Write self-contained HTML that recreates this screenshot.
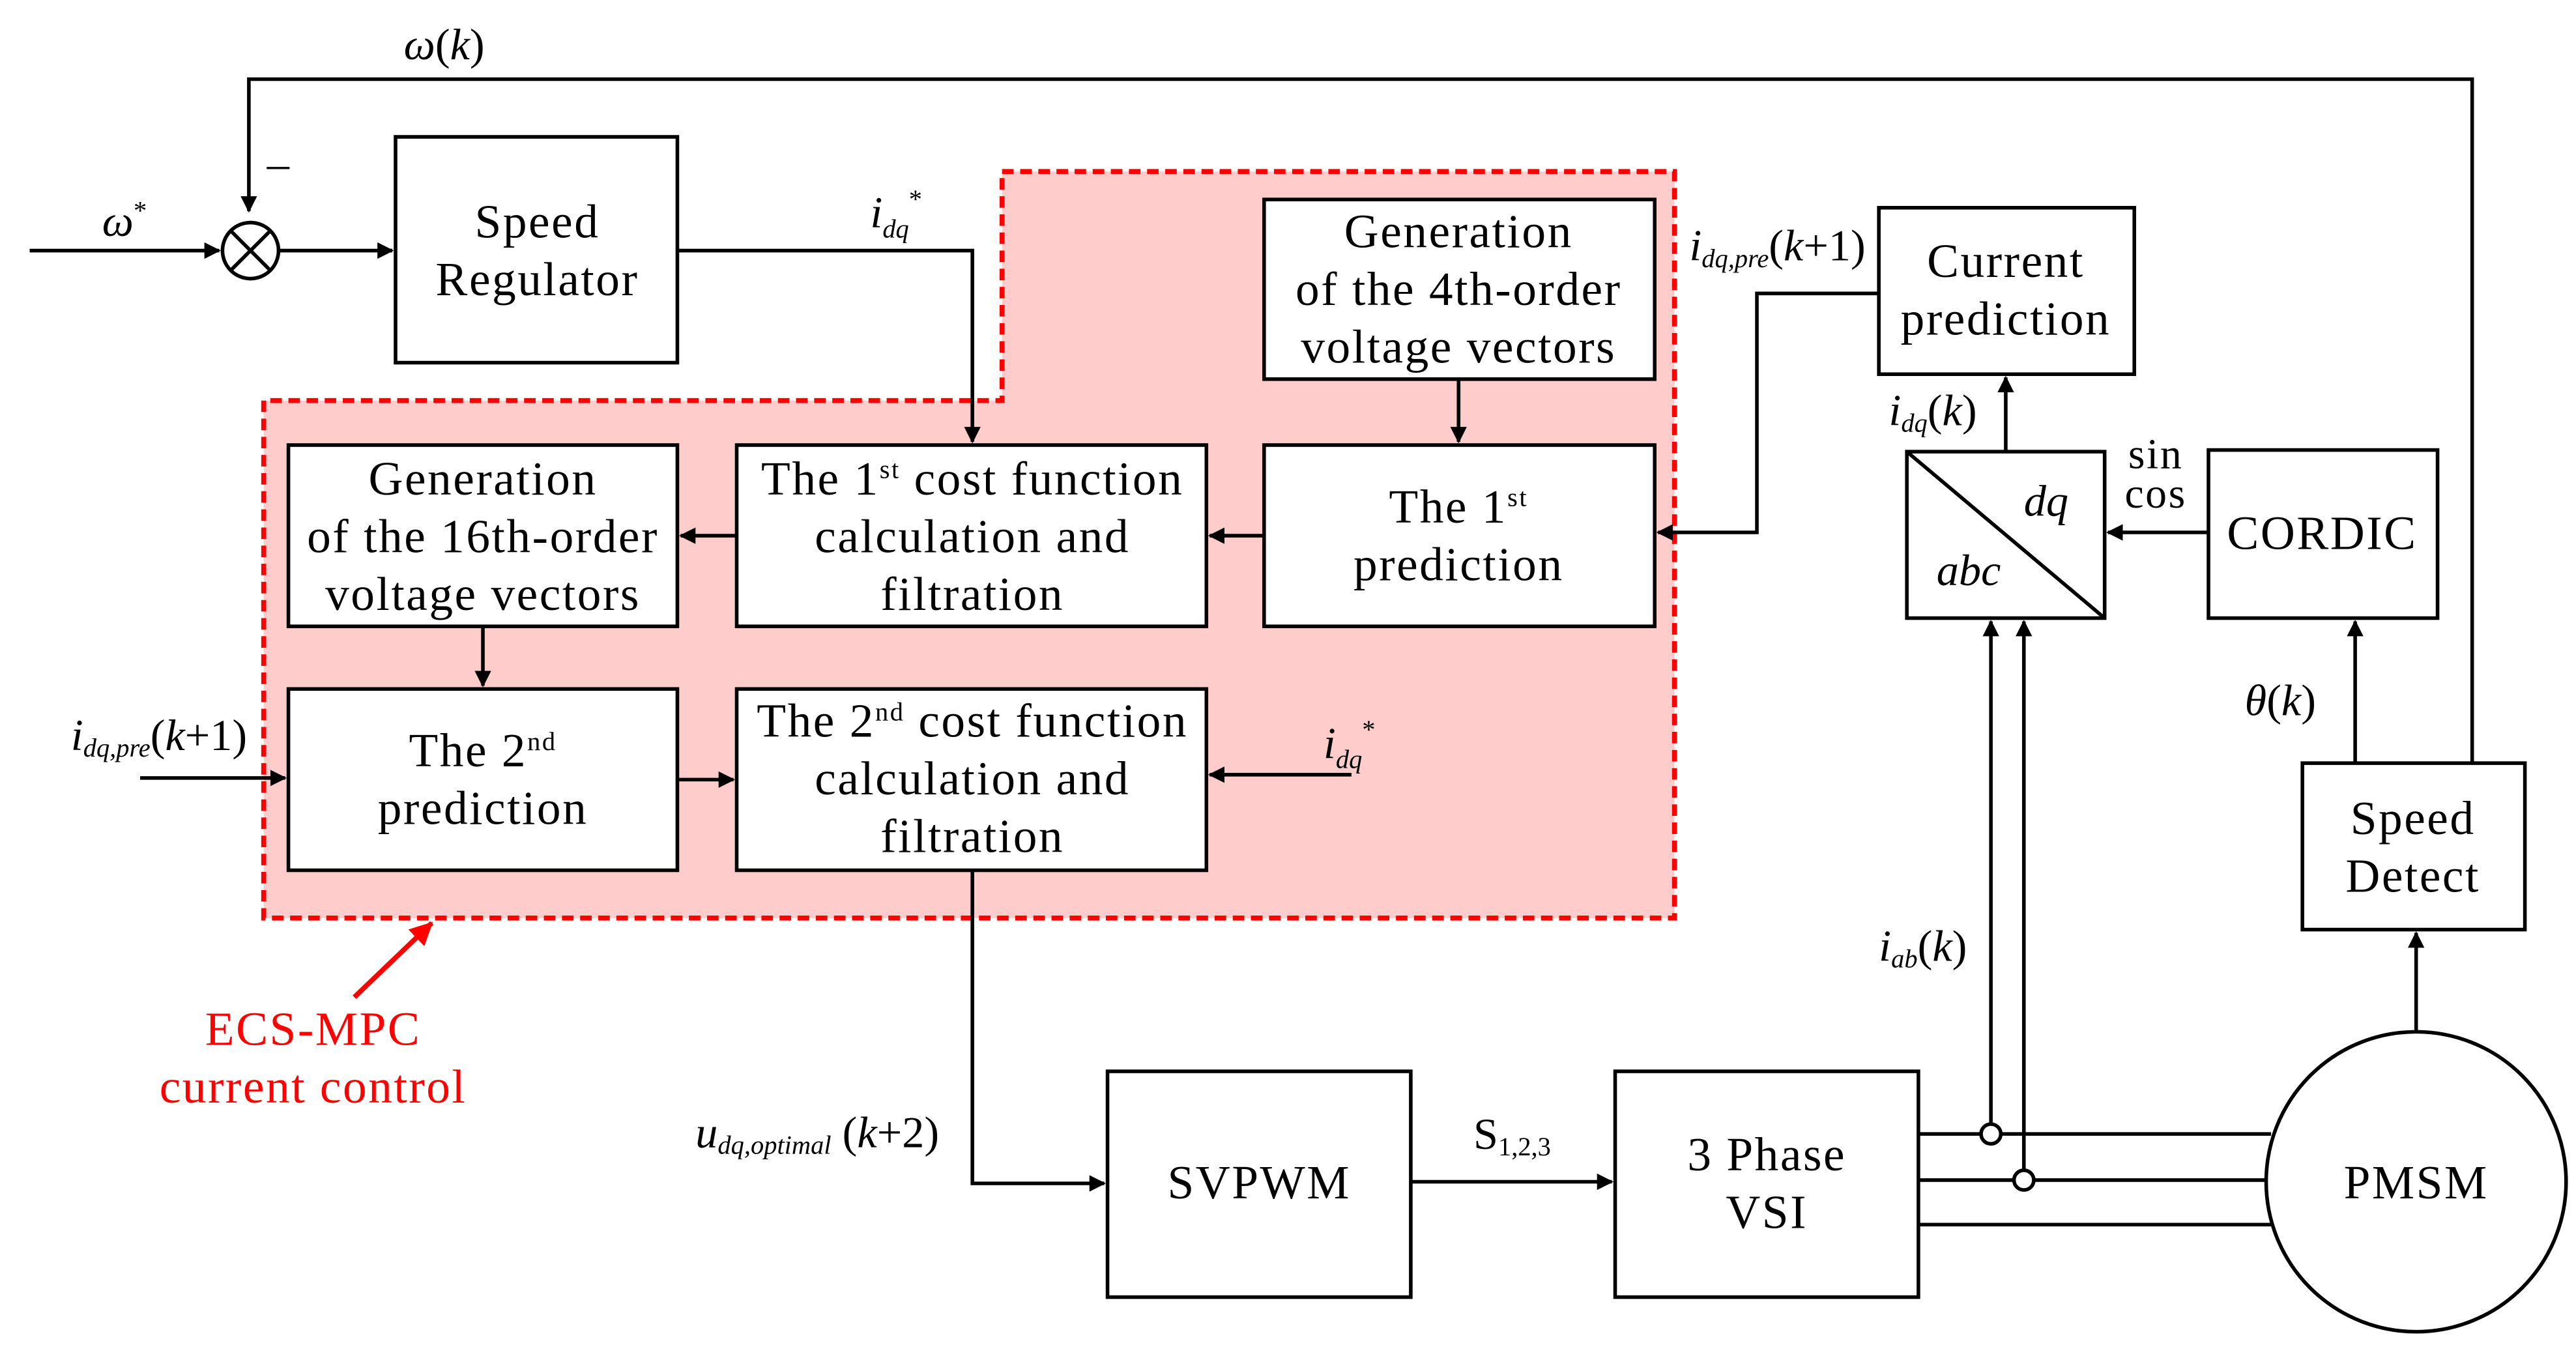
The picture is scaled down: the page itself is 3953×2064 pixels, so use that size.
<!DOCTYPE html>
<html><head><meta charset="utf-8"><style>
html,body{margin:0;padding:0;background:#fff}
svg{display:block}
text{font-family:"Liberation Serif",serif;fill:#000}
</style></head><body>
<svg width="3953" height="2064" viewBox="0 0 1563 816" xmlns="http://www.w3.org/2000/svg">
<defs>
<marker id="a" markerWidth="10" markerHeight="10" refX="9" refY="5" orient="auto" markerUnits="userSpaceOnUse"><path d="M0,0 L10,5 L0,10 z" fill="#000"/></marker>
<marker id="r" markerWidth="14" markerHeight="14" refX="13" refY="7" orient="auto" markerUnits="userSpaceOnUse"><path d="M0,0 L14,7 L0,14 z" fill="#f00"/></marker>
</defs>
<polygon points="608,104 1016,104 1016,557 160,557 160,243 608,243" fill="#ffcccc" stroke="#f00" stroke-width="3" stroke-dasharray="7,4"/>
<g fill="none" stroke="#000" stroke-width="2.2">
<path d="M1500,463 V48 H151 V128" marker-end="url(#a)"/>
<path d="M18,152 H133" marker-end="url(#a)"/>
<circle cx="152" cy="152" r="17" fill="#fff"/>
<path d="M140,140 L164,164 M164,140 L140,164"/>
<path d="M169,152 H238" marker-end="url(#a)"/>
<rect x="240" y="83" width="171" height="137" fill="#fff"/>
<path d="M411,152 H590 V268" marker-end="url(#a)"/>
<rect x="767" y="121" width="237" height="109" fill="#fff"/>
<path d="M885,230 V268" marker-end="url(#a)"/>
<rect x="767" y="270" width="237" height="110" fill="#fff"/>
<rect x="447" y="270" width="285" height="110" fill="#fff"/>
<rect x="175" y="270" width="236" height="110" fill="#fff"/>
<rect x="175" y="418" width="236" height="110" fill="#fff"/>
<rect x="447" y="418" width="285" height="110" fill="#fff"/>
<path d="M767,325 H734" marker-end="url(#a)"/>
<path d="M447,325 H413" marker-end="url(#a)"/>
<path d="M293,380 V416" marker-end="url(#a)"/>
<path d="M411,473 H445" marker-end="url(#a)"/>
<path d="M820,470 H734" marker-end="url(#a)"/>
<path d="M85,472 H173" marker-end="url(#a)"/>
<path d="M590,528 V718 H670" marker-end="url(#a)"/>
<rect x="672" y="650" width="184" height="137" fill="#fff"/>
<path d="M856,717 H978" marker-end="url(#a)"/>
<rect x="980" y="650" width="184" height="137" fill="#fff"/>
<path d="M1164,688 H1378 M1164,716 H1378 M1164,743 H1378"/>
<circle cx="1466" cy="717" r="91" fill="#fff"/>
<path d="M1208,682 V377" marker-end="url(#a)"/>
<path d="M1228,710 V377" marker-end="url(#a)"/>
<circle cx="1208" cy="688" r="6" fill="#fff"/>
<circle cx="1228" cy="716" r="6" fill="#fff"/>
<rect x="1157" y="274" width="120" height="101" fill="#fff"/>
<path d="M1157,274 L1277,375"/>
<path d="M1217,274 V229" marker-end="url(#a)"/>
<rect x="1140" y="126" width="155" height="101" fill="#fff"/>
<path d="M1140,178 H1066 V323 H1006" marker-end="url(#a)"/>
<rect x="1340" y="273" width="139" height="102" fill="#fff"/>
<path d="M1340,323 H1279" marker-end="url(#a)"/>
<rect x="1397" y="463" width="135" height="101" fill="#fff"/>
<path d="M1429,463 V377" marker-end="url(#a)"/>
<path d="M1466,626 V566" marker-end="url(#a)"/>
</g>
<path d="M215,605 L262,560" stroke="#f00" stroke-width="3" fill="none" marker-end="url(#r)"/>
<g font-size="29" text-anchor="middle" letter-spacing="1">
<text x="326" y="144">Speed</text><text x="326" y="179">Regulator</text>
<text x="885" y="150">Generation</text><text x="885" y="185">of the 4th-order</text><text x="885" y="220">voltage vectors</text>
<text x="885" y="317">The 1<tspan font-size="16" dy="-10">st</tspan></text><text x="885" y="352">prediction</text>
<text x="590" y="300">The 1<tspan font-size="16" dy="-10">st</tspan><tspan dy="10"> cost function</tspan></text><text x="590" y="335">calculation and</text><text x="590" y="370">filtration</text>
<text x="293" y="300">Generation</text><text x="293" y="335">of the 16th-order</text><text x="293" y="370">voltage vectors</text>
<text x="293" y="465">The 2<tspan font-size="16" dy="-10">nd</tspan></text><text x="293" y="500">prediction</text>
<text x="590" y="447">The 2<tspan font-size="16" dy="-10">nd</tspan><tspan dy="10"> cost function</tspan></text><text x="590" y="482">calculation and</text><text x="590" y="517">filtration</text>
<text x="764" y="727">SVPWM</text>
<text x="1072" y="710">3 Phase</text><text x="1072" y="745">VSI</text>
<text x="1466" y="727">PMSM</text>
<text x="1217" y="168">Current</text><text x="1217" y="203">prediction</text>
<text x="1409" y="333">CORDIC</text>
<text x="1464" y="506">Speed</text><text x="1464" y="541">Detect</text>
<text x="1308" y="284" font-size="26">sin</text><text x="1308" y="308" font-size="26">cos</text>
<text x="190" y="634" style="fill:#f00">ECS-MPC</text>
<text x="190" y="669" style="fill:#f00">current control</text>
</g>
<g font-size="27" font-style="italic">
<text x="1228" y="313">dq</text><text x="1175" y="355">abc</text>
<text x="245" y="36"><tspan>ω</tspan><tspan font-style="normal">(</tspan>k<tspan font-style="normal">)</tspan></text>
<text x="62" y="143">ω<tspan font-size="16" dy="-10" font-style="normal">*</tspan></text>
<text x="162" y="108" font-style="normal">–</text>
<text x="528" y="138">i<tspan font-size="16" dy="6">dq</tspan><tspan font-size="16" dy="-18" font-style="normal">*</tspan></text>
<text x="803" y="460">i<tspan font-size="16" dy="6">dq</tspan><tspan font-size="16" dy="-18" font-style="normal">*</tspan></text>
<text x="43" y="455">i<tspan font-size="16" dy="4">dq,pre</tspan><tspan dy="-4" font-style="normal">(</tspan>k<tspan font-style="normal">+1)</tspan></text>
<text x="1025" y="158">i<tspan font-size="16" dy="4">dq,pre</tspan><tspan dy="-4" font-style="normal">(</tspan>k<tspan font-style="normal">+1)</tspan></text>
<text x="1146" y="258">i<tspan font-size="16" dy="4">dq</tspan><tspan dy="-4" font-style="normal">(</tspan>k<tspan font-style="normal">)</tspan></text>
<text x="1140" y="583">i<tspan font-size="16" dy="4">ab</tspan><tspan dy="-4" font-style="normal">(</tspan>k<tspan font-style="normal">)</tspan></text>
<text x="1362" y="434">θ<tspan font-style="normal">(</tspan>k<tspan font-style="normal">)</tspan></text>
<text x="894" y="697" font-style="normal">S<tspan font-size="16" dy="4">1,2,3</tspan></text>
<text x="422" y="696">u<tspan font-size="16" dy="4">dq,optimal</tspan><tspan dy="-4" font-style="normal"> (</tspan>k<tspan font-style="normal">+2)</tspan></text>
</g>
</svg>
</body></html>
